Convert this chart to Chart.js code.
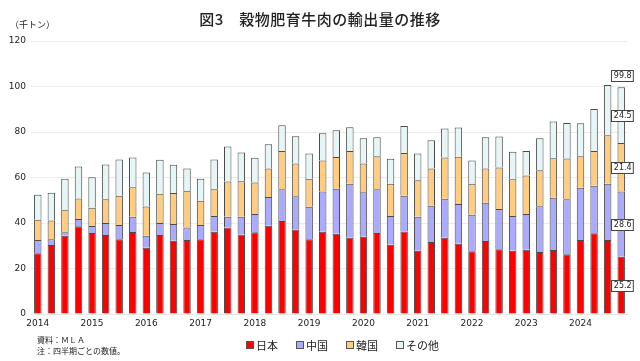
<!DOCTYPE html>
<html lang="ja">
<head>
<meta charset="utf-8">
<script src="https://cdn.jsdelivr.net/npm/chart.js@4.4.1/dist/chart.umd.min.js"></script>
<style>
    html, body { margin: 0; padding: 0; background: #ffffff; }
    #wrap { position: relative; width: 640px; height: 361px; font-family: "Noto Sans CJK JP", "Noto Sans", sans-serif; color: #222; }
    #chart { position: absolute; left: 0; top: 0; }
    .title { position: absolute; left: 0; width: 640px; top: 8px; text-align: center; font-size: 15px; font-weight: 500; letter-spacing: 0.5px; }
    .unit { position: absolute; left: 10px; top: 18px; font-size: 9px; }
    .note { position: absolute; left: 37px; font-size: 8px; }
    .legend { position: absolute; top: 337px; left: 246px; font-size: 11px; display: flex; gap: 18px; }
    .legend span { display: inline-flex; align-items: center; }
    .legend i { display: inline-block; width: 6px; height: 6px; border: 1px solid #555; margin-right: 2px; }
</style>
</head>
<body>
<div id="wrap">
    <canvas id="chart" width="640" height="361"></canvas>
    <div class="title">図3　穀物肥育牛肉の輸出量の推移</div>
    <div class="unit">（千トン）</div>
    <div class="note" style="top:334px">資料：ＭＬＡ</div>
    <div class="note" style="top:345px">注：四半期ごとの数値。</div>
    <div class="legend" id="legend"></div>
</div>
<script>
const years = ["2014", "2015", "2016", "2017", "2018", "2019", "2020", "2021", "2022", "2023", "2024"];
const quarters = ["Q1", "Q2", "Q3", "Q4"];
const categories = years.flatMap(y => quarters.map(q => `${y}${q}`));

const seriesNames = ["日本", "中国", "韓国", "その他"];
const seriesColors = ["#ff0000", "#aaaaff", "#ffcc80", "#e6f5f5"];

const japan = [
    26.7, 30.3, 34.4, 38.6, 35.6, 34.7, 32.9, 36.0, 29.1, 34.7, 32.2,
    32.5, 32.9, 36.2, 38.0, 34.9, 35.9, 38.8, 40.9, 37.1, 32.9, 36.2,
    35.3, 33.5, 34.0, 35.6, 30.4, 36.3, 27.8, 31.6, 33.5, 30.9, 27.6,
    32.1, 28.5, 27.8, 28.2, 27.2, 28.1, 26.3, 32.5, 35.5, 32.5, 25.2
];
const china = [
    5.8, 2.6, 1.5, 3.2, 3.1, 5.3, 6.2, 6.8, 5.3, 5.3, 7.4,
    5.5, 6.2, 6.9, 4.7, 7.9, 8.1, 12.6, 13.9, 14.7, 14.2, 17.6,
    19.8, 23.8, 19.5, 19.2, 12.7, 15.7, 15.0, 16.0, 17.2, 17.5, 16.0,
    16.8, 17.7, 15.3, 15.8, 20.2, 23.0, 24.1, 23.0, 20.9, 24.8, 28.6
];
const korea = [
    8.9, 8.2, 9.9, 9.0, 8.0, 10.4, 12.9, 12.9, 12.9, 12.9, 13.6,
    16.2, 10.7, 11.7, 15.5, 15.5, 13.8, 12.6, 16.8, 14.4, 12.3, 13.7,
    13.9, 14.3, 12.7, 14.5, 14.2, 18.8, 16.0, 16.4, 18.1, 20.7, 13.7,
    15.1, 18.2, 16.1, 16.9, 15.8, 17.4, 18.0, 13.8, 15.2, 21.3, 21.4
];
const others = [
    11.0, 12.2, 13.6, 14.0, 13.4, 15.3, 15.9, 13.1, 14.9, 14.9, 12.4,
    9.8, 9.6, 13.1, 15.4, 12.7, 10.9, 10.6, 11.4, 11.9, 11.2, 12.0,
    11.8, 10.5, 11.1, 8.4, 10.9, 11.8, 11.8, 12.4, 12.7, 12.9, 10.2,
    13.7, 13.6, 12.1, 10.7, 14.1, 16.1, 15.6, 14.5, 18.5, 22.1, 24.5
];
const latestTotal = 99.8;
const yTicks = [0, 20, 40, 60, 80, 100, 120];

const seriesData = [japan, china, korea, others];

document.getElementById("legend").innerHTML = seriesNames
    .map((name, i) => `<span><i style="background:${seriesColors[i]}"></i>${name}</span>`)
    .join("");

function drawBox(ctx, text, x, y) {
    ctx.font = "8px 'DejaVu Sans', sans-serif";
    const w = ctx.measureText(text).width + 4;
    const h = 11;
    ctx.fillStyle = "#ffffff";
    ctx.strokeStyle = "#444444";
    ctx.lineWidth = 1;
    ctx.fillRect(Math.round(x - w / 2) + 0.5, Math.round(y - h / 2) + 0.5, w, h);
    ctx.strokeRect(Math.round(x - w / 2) + 0.5, Math.round(y - h / 2) + 0.5, w, h);
    ctx.fillStyle = "#222222";
    ctx.textAlign = "center";
    ctx.textBaseline = "middle";
    ctx.fillText(text, x + 0.5, y + 1);
}

// labels on the newest bar
const lastBarLabels = {
    id: "lastBarLabels",
    afterDatasetsDraw(chart) {
        const ctx = chart.ctx;
        const last = categories.length - 1;
        ctx.save();
        seriesData.forEach((values, i) => {
            const bar = chart.getDatasetMeta(i).data[last];
            drawBox(ctx, values[last].toFixed(1), bar.x + 1, (bar.y + bar.base) / 2);
        });
        const topBar = chart.getDatasetMeta(seriesData.length - 1).data[last];
        drawBox(ctx, latestTotal.toFixed(1), topBar.x + 1, topBar.y - 12);
        ctx.restore();
    }
};

new Chart(document.getElementById("chart"), {
    type: "bar",
    data: {
        labels: categories,
        datasets: seriesData.map((values, i) => ({
            label: seriesNames[i],
            data: values,
            backgroundColor: seriesColors[i],
            borderColor: "#4a4a4a",
            borderWidth: { top: 1, left: 1, right: 1, bottom: 0 },
            borderSkipped: "start",
            barPercentage: 0.55,
            categoryPercentage: 1
        }))
    },
    options: {
        responsive: false,
        animation: false,
        layout: {
            padding: { top: 41, right: 12, bottom: 27, left: 0 }
        },
        plugins: {
            legend: { display: false },
            tooltip: { enabled: false }
        },
        scales: {
            x: {
                stacked: true,
                offset: true,
                grid: { display: false, drawTicks: false },
                border: { color: "#e6e6e6" },
                afterFit: scale => { scale.height = 20; },
                ticks: {
                    autoSkip: false,
                    maxRotation: 0,
                    padding: 4,
                    color: "#222222",
                    font: { family: "'DejaVu Sans', sans-serif", size: 9 },
                    callback: (value, index) => index % 4 === 0 ? categories[index].slice(0, 4) : ""
                }
            },
            y: {
                stacked: true,
                min: 0,
                max: 120,
                afterFit: scale => { scale.width = 31; },
                afterBuildTicks: scale => { scale.ticks = yTicks.map(v => ({ value: v })); },
                grid: { color: "#ececec", lineWidth: 1, drawTicks: false },
                border: { display: false },
                ticks: {
                    padding: 5,
                    color: "#222222",
                    font: { family: "'DejaVu Sans', sans-serif", size: 9 }
                }
            }
        }
    },
    plugins: [lastBarLabels]
});
</script>
</body>
</html>
